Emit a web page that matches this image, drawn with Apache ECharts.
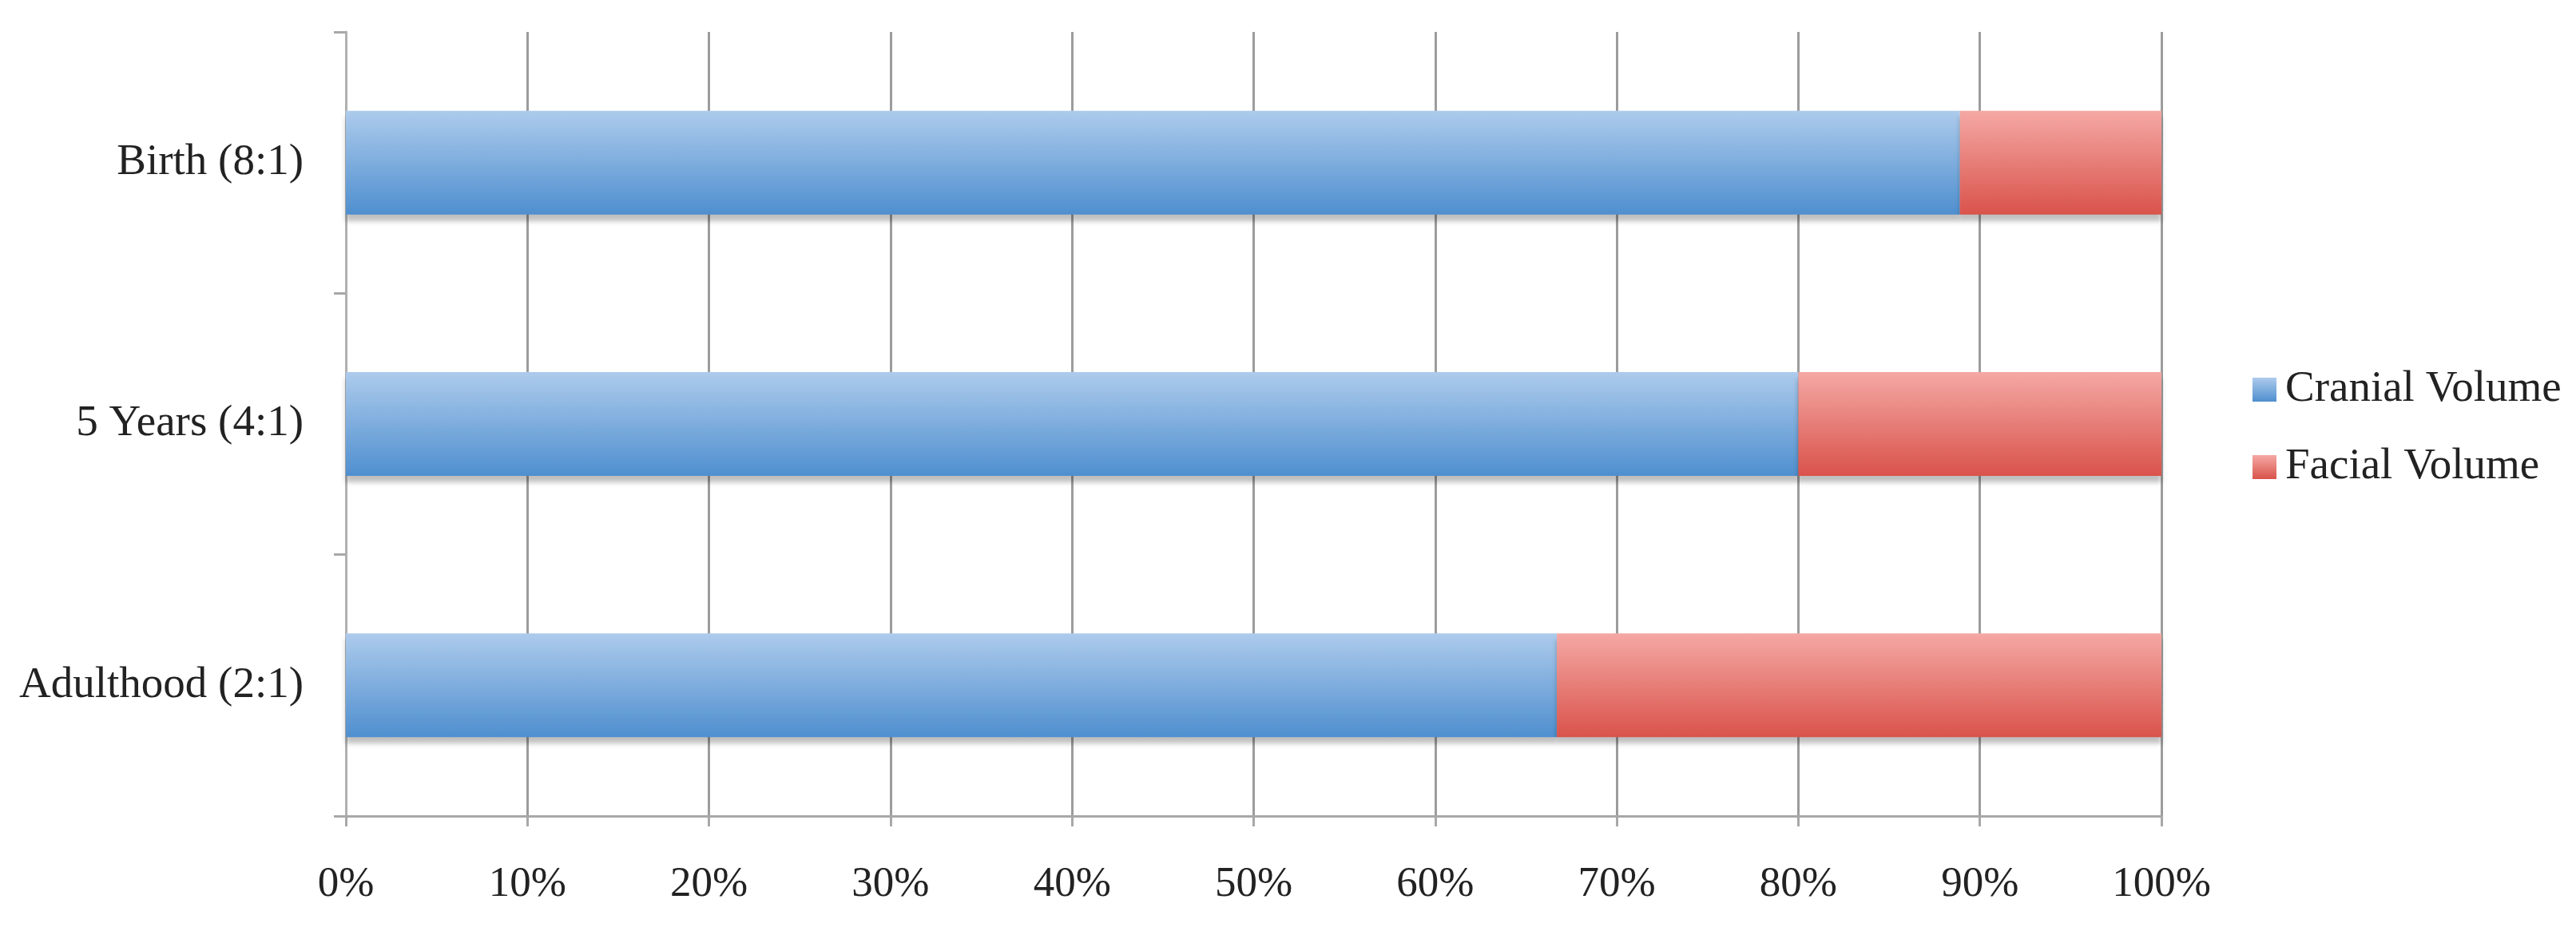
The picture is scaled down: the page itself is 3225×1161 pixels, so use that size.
<!DOCTYPE html>
<html>
<head>
<meta charset="utf-8">
<script src="https://cdn.jsdelivr.net/npm/echarts@6/dist/echarts.min.js"></script>
<style>
  html, body { margin: 0; padding: 0; background: #fff; }
  #chart { width: 3225px; height: 1161px; }
</style>
</head>
<body>
<div id="chart"></div>
<script>
// categories bottom to top
var categories = ['Adulthood (2:1)', '5 Years (4:1)', 'Birth (8:1)']
var cranialVolume = [66.7, 80, 88.9]
var facialVolume = [33.3, 20, 11.1]
var seriesNames = ['Cranial Volume', 'Facial Volume']

var font = 'Liberation Serif, Times New Roman, serif'

function grad(top, bottom) {
  return new echarts.graphic.LinearGradient(0, 0, 0, 1, [
    { offset: 0, color: top },
    { offset: 1, color: bottom }
  ])
}

var chart = echarts.init(document.getElementById('chart'))
chart.setOption({
  animation: false,
  backgroundColor: '#fff',
  textStyle: { fontFamily: font, color: '#222' },
  grid: {
    left: 433,
    right: 519,
    top: 40,
    bottom: 139,
    containLabel: false
  },
  legend: {
    orient: 'vertical',
    left: 2815,
    top: 453,
    itemWidth: 30,
    itemHeight: 30,
    itemGap: 37,
    icon: 'rect',
    textStyle: { fontFamily: font, fontSize: 55, color: '#222', lineHeight: 60, padding: [0, 0, 0, 6] },
    data: seriesNames
  },
  xAxis: {
    type: 'value',
    min: 0,
    max: 100,
    interval: 10,
    axisLine: { show: true, lineStyle: { color: '#a8a8a8', width: 3 } },
    axisTick: { show: true, length: 13, lineStyle: { color: '#a8a8a8', width: 3 } },
    splitLine: { show: true, lineStyle: { color: '#9c9c9c', width: 3 } },
    axisLabel: {
      formatter: '{value}%',
      fontFamily: font,
      fontSize: 53,
      color: '#222',
      margin: 60
    }
  },
  yAxis: {
    type: 'category',
    data: categories,
    axisLine: { show: true, lineStyle: { color: '#b0b0b0', width: 3 } },
    axisTick: { show: true, length: 15, lineStyle: { color: '#a8a8a8', width: 3 } },
    axisLabel: {
      fontFamily: font,
      fontSize: 55,
      color: '#222',
      margin: 53
    }
  },
  series: [
    {
      name: seriesNames[0],
      type: 'bar',
      stack: 'total',
      barWidth: 130,
      data: cranialVolume,
      itemStyle: {
        color: grad('#adcbec', '#4f8fcf'),
        shadowColor: 'rgba(0,0,0,0.25)',
        shadowBlur: 6,
        shadowOffsetY: 8
      }
    },
    {
      name: seriesNames[1],
      type: 'bar',
      stack: 'total',
      barWidth: 130,
      data: facialVolume,
      itemStyle: {
        color: grad('#f5a8a4', '#d9534b'),
        shadowColor: 'rgba(0,0,0,0.25)',
        shadowBlur: 6,
        shadowOffsetY: 8
      }
    }
  ]
})
</script>
</body>
</html>
